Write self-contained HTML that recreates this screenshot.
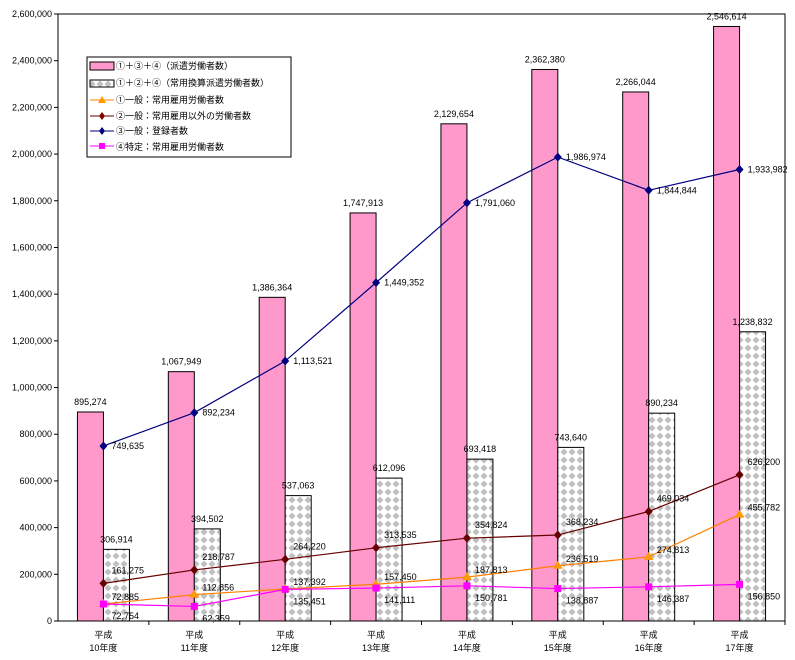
<!DOCTYPE html>
<html><head><meta charset="utf-8"><style>
body{margin:0;background:#fff}
svg text{font-family:"Liberation Sans","Noto Sans CJK JP",sans-serif;font-size:9px;fill:#000}
</style></head><body>
<svg id="c" width="795" height="655" xmlns="http://www.w3.org/2000/svg">
<defs>
<pattern id="dots" width="8" height="8" patternUnits="userSpaceOnUse">
<rect width="8" height="8" fill="#fff"/>
<path d="M4,0.5 L7.5,4 L4,7.5 L0.5,4Z" fill="#c0c0c0"/>
</pattern>
</defs>
<rect x="58" y="14" width="727" height="607" fill="#fff" stroke="#000"/>
<g id="g"></g>
<g>
<rect x="87" y="57" width="204" height="100" fill="#fff" stroke="#000"/>
<rect x="90" y="62" width="24" height="8" fill="#ff99cc" stroke="#000"/>
<text x="116" y="69">①＋③＋④（派遣労働者数）</text>
<rect x="90" y="80" width="24" height="7" fill="url(#dots)" stroke="#000"/>
<text x="116" y="86">①＋②＋④（常用換算派遣労働者数）</text>
<line x1="90" y1="100" x2="114" y2="100" stroke="#ff8000"/><path d="M102,96 L106,103 L98,103Z" fill="#ff9900"/>
<text x="116" y="103">①一般：常用雇用労働者数</text>
<line x1="90" y1="116" x2="114" y2="116" stroke="#660000"/><path d="M102,112 L105,116 L102,120 L99,116Z" fill="#800000"/>
<text x="116" y="119">②一般：常用雇用以外の労働者数</text>
<line x1="90" y1="131" x2="114" y2="131" stroke="#000080"/><path d="M102,127 L105,131 L102,135 L99,131Z" fill="#000080"/>
<text x="116" y="134">③一般：登録者数</text>
<line x1="90" y1="146" x2="114" y2="146" stroke="#ff00ff"/><rect x="99" y="143" width="6" height="6" fill="#ff00ff"/>
<text x="116" y="150">④特定：常用雇用労働者数</text>
</g>
</svg>
<script>
const categories=["10","11","12","13","14","15","16","17"];
const totalWorkers=[895274,1067949,1386364,1747913,2129654,2362380,2266044,2546614];
const fteWorkers=[306914,394502,537063,612096,693418,743640,890234,1238832];
const s1=[72885,112856,137392,157450,187813,236519,274813,455782];
const s2=[161275,218787,264220,313535,354824,368234,469034,626200];
const s3=[749635,892234,1113521,1449352,1791060,1986974,1844844,1933982];
const s4=[72754,62359,135451,141111,150781,138887,146387,156850];
const yTicks=[0,200000,400000,600000,800000,1000000,1200000,1400000,1600000,1800000,2000000,2200000,2400000,2600000];
const L=58,R=785,T=14,B=621,MAX=2600000;
const cw=(R-L)/categories.length;
const x=i=>L+cw*(i+0.5);
const y=v=>B-(v/MAX)*(B-T);
const fmt=v=>v.toLocaleString('en-US');
const g=document.getElementById('g');
const NS='http://www.w3.org/2000/svg';
function mk(t,a,txt){const e=document.createElementNS(NS,t);for(const k in a)e.setAttribute(k,a[k]);if(txt!=null)e.textContent=txt;g.appendChild(e);return e;}
yTicks.forEach(v=>{
 const l=mk('line',{x1:L-4,x2:L,y1:y(v),y2:y(v),stroke:'#000'});
 
 
 const t=mk('text',{x:L-6,y:y(v)+3,'text-anchor':'end'},fmt(v));
 
 
});
categories.forEach((c,i)=>{
 const tk=mk('line',{x1:L+cw*(i+1),x2:L+cw*(i+1),y1:B,y2:B+4,stroke:'#000'});
 
 
 const t1=mk('text',{x:x(i),y:B+17,'text-anchor':'middle'},'平成');
 
 
 const t2=mk('text',{x:x(i),y:B+30,'text-anchor':'middle'},c+'年度');
 
 
 const b1=mk('rect',{x:x(i)-26,y:y(totalWorkers[i]),width:26,height:B-y(totalWorkers[i]),fill:'#ff99cc',stroke:'#000'});
 
 
 const b2=mk('rect',{x:x(i),y:y(fteWorkers[i]),width:26,height:B-y(fteWorkers[i]),fill:'url(#dots)',stroke:'#000'});
 
 
 const l1=mk('text',{x:x(i)-13,y:y(totalWorkers[i])-7,'text-anchor':'middle'},fmt(totalWorkers[i]));
 
 
 const l2=mk('text',{x:x(i)+13,y:y(fteWorkers[i])-7,'text-anchor':'middle'},fmt(fteWorkers[i]));
 
 
});
function series(data,color,marker,name,dy){
 const p=mk('polyline',{points:data.map((v,i)=>x(i)+','+y(v)).join(' '),fill:'none',stroke:color,'stroke-width':1.2});
 
 
 data.forEach((v,i)=>{
  const X=x(i),Y=y(v);let m;
  if(marker==='tri')m=mk('path',{d:`M${X},${Y-5} L${X+5},${Y+3} L${X-5},${Y+3}Z`,fill:'#ff9900'});
  else if(marker==='sq')m=mk('rect',{x:X-3.5,y:Y-3.5,width:7,height:7,fill:color});
  else m=mk('path',{d:`M${X},${Y-4.5} L${X+4},${Y} L${X},${Y+4.5} L${X-4},${Y}Z`,fill:color});
  
  
  const t=mk('text',{x:X+8,y:Y+dy},fmt(v));
  
  
 });
}
series(s2,'#660000','dia','series-2',-10);
series(s1,'#ff8000','tri','series-1',-4);
series(s4,'#ff00ff','sq','series-4',15);
series(s3,'#000080','dia','series-3',3);
</script>
</body></html>
